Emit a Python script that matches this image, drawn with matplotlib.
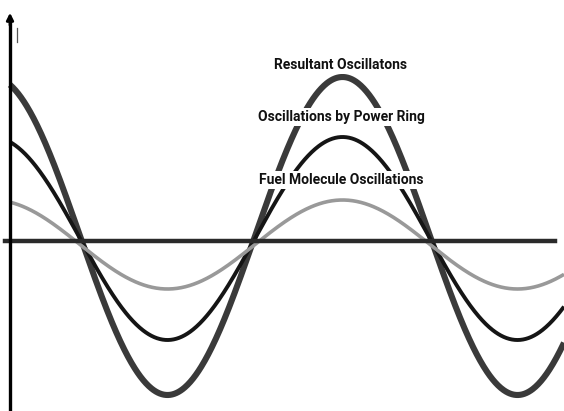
import matplotlib.pyplot as plt
import numpy as np

# Wave extremes, measured from the baseline (pixel-like units, up is positive)
wave_names = ["Resultant Oscillatons", "Oscillations by Power Ring", "Fuel Molecule Oscillations"]
wave_peaks = [164, 104, 41]
wave_troughs = [-154, -99, -48]
wave_colors = ["#3a3a3a", "#151515", "#999999"]
wave_widths = [4.4, 2.8, 2.6]
label_heights = [176, 124, 61]

# All three waves share the same period and phase
period = 350.0
first_zero = 80.0

fig = plt.figure(figsize=(5.64, 4.11), dpi=100)
ax = fig.add_axes([0, 0, 1, 1])
ax.set_xlim(0, 564)
ax.set_ylim(-170, 241)
ax.set_axis_off()

x = np.linspace(10, 564, 800)
phase = np.pi / 2 + (x - first_zero) * 2 * np.pi / period
for top, bottom, color, lw in zip(wave_peaks, wave_troughs, wave_colors, wave_widths):
    mid = (top + bottom) / 2
    amp = (top - bottom) / 2
    ax.plot(x, mid + amp * np.cos(phase), color=color, lw=lw, solid_capstyle="butt", zorder=2)

# Axes lines
ax.plot([5, 555], [0, 0], color="#2a2a2a", lw=3.2, zorder=3)
ax.plot([10, 10], [-170, 222], color="black", lw=2.4, zorder=3)
ax.annotate("", xy=(10, 231), xytext=(10, 213),
            arrowprops=dict(arrowstyle="-|>", color="black", lw=2, mutation_scale=10))
# small stray stroke next to the arrow, as in the source scan
ax.plot([17, 17], [213, 199], color="#555555", lw=0.9, zorder=3)

for name, h in zip(wave_names, label_heights):
    ax.text(341, h, name, ha="center", va="center", fontsize=10, fontweight="bold",
            family=["Roboto", "DejaVu Sans"], color="#111111", zorder=4,
            bbox=dict(facecolor="white", edgecolor="none", pad=1.5))

fig.savefig("out.png", dpi=100)
